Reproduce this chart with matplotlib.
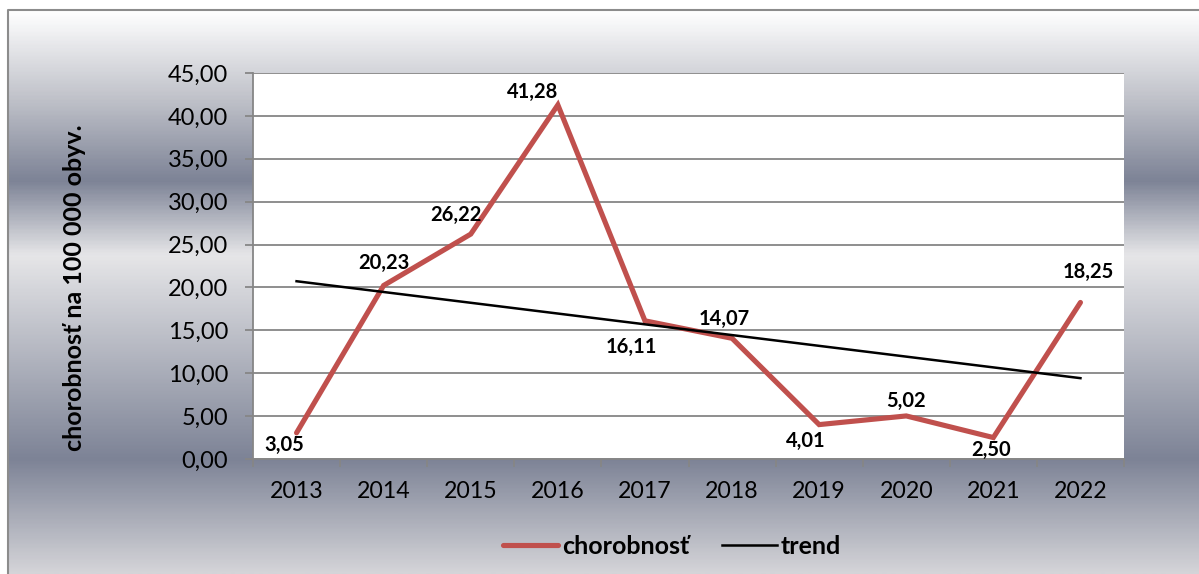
import numpy as np
import matplotlib
import matplotlib.pyplot as plt
from matplotlib.colors import LinearSegmentedColormap

matplotlib.use("Agg")
plt.rcParams["font.family"] = ["Lato", "DejaVu Sans"]

# ── data ──────────────────────────────────────────────────────────────────────
years = ["2013", "2014", "2015", "2016", "2017", "2018", "2019", "2020", "2021", "2022"]
chorobnost = [3.05, 20.23, 26.22, 41.28, 16.11, 14.07, 4.01, 5.02, 2.50, 18.25]
# label offsets in pixels (dx, dy) relative to each point
label_off = [(-12, -12), (0, 23), (-15, 19), (-25, 13), (-14, -26),
             (-8, 19), (-13, -16), (0, 15), (-2, -12), (8, 30)]

RED = "#c0504d"
GRID = "#868686"
W, H = 1199, 574

fig = plt.figure(figsize=(W / 100, H / 100), dpi=100)
fig.patch.set_facecolor("white")

# ── gradient background (Excel chart area) ───────────────────────────────────
bg = fig.add_axes([0, 0, 1, 1], zorder=-5)
bg.set_xlim(0, W)
bg.set_ylim(H, 0)
bg.axis("off")
stops = [(10, "#ffffff"), (100, "#bec0c8"), (180, "#7d8396"), (255, "#e6e6e8"),
         (460, "#7d8396"), (574, "#d4d4d8")]
y0, y1 = stops[0][0], stops[-1][0]
cmap = LinearSegmentedColormap.from_list(
    "bggrad", [((y - y0) / (y1 - y0), c) for y, c in stops])
grad = np.linspace(0, 1, 400).reshape(-1, 1)
bg.imshow(grad, cmap=cmap, aspect="auto", extent=[8, W, y1, y0],
          interpolation="bilinear")
bg.plot([8, 8, W], [H, 10, 10], color="#8c8c8c", lw=1.5)

# ── main plot ────────────────────────────────────────────────────────────────
ax = fig.add_axes([253 / W, 1 - 459 / H, (1124 - 253) / W, (459 - 73) / H])
ax.set_facecolor("white")
x = np.arange(1, len(years) + 1)

coef = np.polyfit(x, chorobnost, 1)
trend = np.polyval(coef, x)

ax.plot(x, chorobnost, color=RED, lw=3.7, solid_capstyle="round",
        solid_joinstyle="miter", label="chorobnosť", zorder=3)
ax.plot(x, trend, color="black", lw=1.8, label="trend", zorder=4)

for xi, v, (dx, dy) in zip(x, chorobnost, label_off):
    ax.annotate(f"{v:.2f}".replace(".", ","), (xi, v), xytext=(dx, dy),
                textcoords="offset pixels", ha="center", va="center",
                fontsize=14.5, fontweight="bold", color="black", zorder=5)

ax.set_xlim(0.5, len(years) + 0.5)
ax.set_ylim(0, 45)
ax.set_yticks(np.arange(0, 46, 5))
ax.set_yticklabels([f"{v:.2f}".replace(".", ",") for v in np.arange(0, 46, 5)],
                   fontsize=17)
ax.yaxis.grid(True, color=GRID, lw=1.3)
ax.set_axisbelow(True)

ax.set_xticks(np.arange(0.5, len(years) + 1, 1))
ax.set_xticklabels([])
ax.set_xticks(x, minor=True)
ax.set_xticklabels(years, minor=True, fontsize=16.7)
ax.tick_params(axis="x", which="major", length=6, color=GRID, width=1.3)
ax.tick_params(axis="x", which="minor", length=0, pad=16)
ax.tick_params(axis="y", length=6, color=GRID, width=1.3, pad=12)

for side in ["top", "right"]:
    ax.spines[side].set_visible(False)
for side in ["left", "bottom"]:
    ax.spines[side].set_color(GRID)
    ax.spines[side].set_linewidth(1.3)

fig.text(75 / W, 1 - 288 / H, "chorobnosť na 100 000 obyv.", rotation=90,
         ha="center", va="center", fontsize=18, fontweight="bold")

leg = fig.legend(loc="center", bbox_to_anchor=(672 / W, 1 - 546 / H), ncol=2,
                 frameon=False, handlelength=2.2, handletextpad=0.15,
                 columnspacing=1.3, prop={"size": 18, "weight": "bold"})

fig.savefig("out.png", dpi=100)
